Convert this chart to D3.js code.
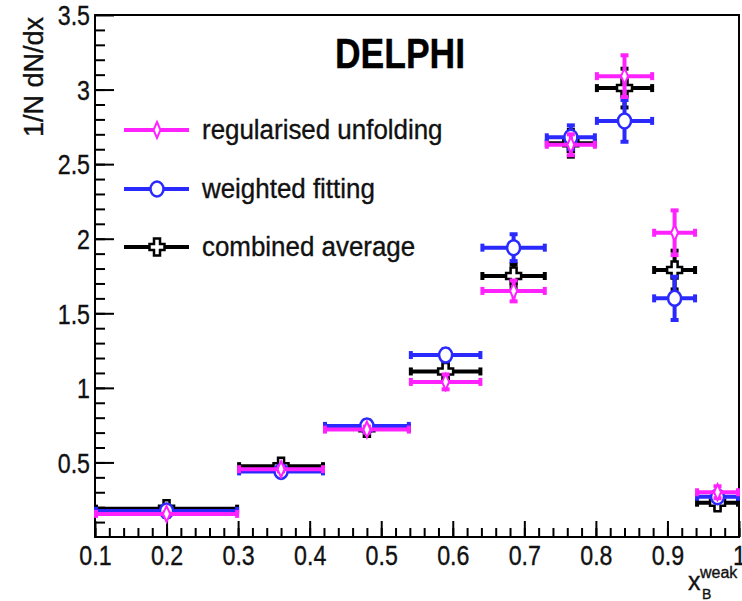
<!DOCTYPE html>
<html>
<head>
<meta charset="utf-8">
<script src="https://cdn.jsdelivr.net/npm/d3@7"></script>
<style>
  html, body { margin: 0; padding: 0; background: #ffffff; }
  svg { display: block; font-family: "Liberation Sans", Arial, Helvetica, sans-serif; }
  text { stroke: #111; stroke-width: 0.35px; }
</style>
</head>
<body>
<svg id="chart" width="742" height="601"></svg>
<script>
// ---- data ----
const binLo   = [0.10, 0.30, 0.42, 0.54, 0.64, 0.73, 0.80, 0.88, 0.94];
const binHi   = [0.30, 0.42, 0.54, 0.64, 0.73, 0.80, 0.88, 0.94, 1.00];
const xCenter = [0.20, 0.36, 0.48, 0.59, 0.685, 0.765, 0.84, 0.91, 0.97];

const regValues = [0.155, 0.455, 0.72, 1.04, 1.65, 2.63, 3.09, 2.04, 0.30];
const regErrors = [0.01, 0.015, 0.02, 0.05, 0.07, 0.07, 0.14, 0.15, 0.04];
const fitValues = [0.175, 0.44, 0.745, 1.22, 1.94, 2.68, 2.79, 1.60, 0.27];
const fitErrors = [0.01, 0.015, 0.02, 0.04, 0.09, 0.08, 0.14, 0.145, 0.03];
const avgValues = [0.19, 0.475, 0.73, 1.11, 1.75, 2.64, 3.01, 1.79, 0.23];
const avgErrors = [0.01, 0.015, 0.02, 0.045, 0.08, 0.09, 0.13, 0.13, 0.04];

const seriesNames = ["regularised unfolding", "weighted fitting", "combined average"];
const xTickValues = [0.1, 0.2, 0.3, 0.4, 0.5, 0.6, 0.7, 0.8, 0.9, 1.0];
const yTickValues = [0.5, 1, 1.5, 2, 2.5, 3, 3.5];

// ---- layout ----
const svg = d3.select("#chart");
const L = 95, R = 739, T = 15, B = 537;
const x = d3.scaleLinear().domain([0.1, 1.0]).range([L, R]);
const y = d3.scaleLinear().domain([0, 3.5]).range([B, T]);
const SX = 0.86; // horizontal text compression seen in the reference

const MAG = "#ff22ff", BLU = "#2a2aff", BLK = "#000000";

// minor ticks
const xMinor = d3.range(0, 46).map(i => 0.1 + i * 0.02).filter(v => v <= 1.0001);
const yMinor = d3.range(1, 35).map(i => i * 0.1);

svg.append("g").attr("transform", `translate(0,${B})`)
  .call(d3.axisBottom(x).tickValues(xMinor).tickSize(-9).tickFormat(""))
  .call(g => g.select(".domain").remove())
  .selectAll("line").attr("stroke", "#000").attr("stroke-width", 2);
svg.append("g").attr("transform", `translate(${L},0)`)
  .call(d3.axisLeft(y).tickValues(yMinor).tickSize(-10).tickFormat(""))
  .call(g => g.select(".domain").remove())
  .selectAll("line").attr("stroke", "#000").attr("stroke-width", 2);

// major x axis
const gx = svg.append("g").attr("transform", `translate(0,${B})`)
  .call(d3.axisBottom(x).tickValues(xTickValues).tickSize(-16).tickPadding(0)
    .tickFormat(d => d3.format("")(+d.toFixed(1))));
gx.select(".domain").remove();
gx.selectAll("line").attr("stroke", "#000").attr("stroke-width", 2);
gx.selectAll("text")
  .attr("y", 28).attr("dy", 0)
  .attr("font-size", 27).attr("fill", "#111")
  .attr("transform", `scale(${SX},1)`)
  .attr("font-family", "Liberation Sans, Arial, sans-serif");

// major y axis
const gy = svg.append("g").attr("transform", `translate(${L},0)`)
  .call(d3.axisLeft(y).tickValues(yTickValues).tickSize(-19).tickPadding(0)
    .tickFormat(d => String(d)));
gy.select(".domain").remove();
gy.selectAll("line").attr("stroke", "#000").attr("stroke-width", 2);
gy.selectAll("text")
  .attr("x", -5 / SX).attr("dy", "0.36em")
  .attr("font-size", 27).attr("fill", "#111")
  .attr("transform", `scale(${SX},1)`)
  .attr("font-family", "Liberation Sans, Arial, sans-serif");

// frame
svg.append("rect").attr("x", L).attr("y", T).attr("width", R - L).attr("height", B - T)
  .attr("fill", "none").attr("stroke", "#000").attr("stroke-width", 2);

// ---- markers ----
function crossPath(ax, ay, lx, ly) {
  return `M${-ax},${-ly}L${ax},${-ly}L${ax},${-ay}L${lx},${-ay}L${lx},${ay}L${ax},${ay}L${ax},${ly}L${-ax},${ly}L${-ax},${ay}L${-lx},${ay}L${-lx},${-ay}L${-ax},${-ay}Z`;
}
function drawMarker(g, kind, color) {
  if (kind === "circle") {
    g.append("ellipse").attr("rx", 6.5).attr("ry", 7.5)
      .attr("fill", "#fff").attr("stroke", color).attr("stroke-width", 2.5);
  } else if (kind === "cross") {
    g.append("path").attr("d", crossPath(3, 3, 7.5, 8.5))
      .attr("fill", "#fff").attr("stroke", color).attr("stroke-width", 2.5);
  } else {
    g.append("path").attr("d", "M0,-8L3.5,0L0,8L-3.5,0Z")
      .attr("fill", "#fff").attr("stroke", color).attr("stroke-width", 2);
  }
}

const series = [
  { vals: avgValues, errs: avgErrors, color: BLK, kind: "cross" },
  { vals: fitValues, errs: fitErrors, color: BLU, kind: "circle" },
  { vals: regValues, errs: regErrors, color: MAG, kind: "diamond" }
];

const LW = 4, CAP = 4;
series.forEach(s => {
  const g = svg.append("g");
  s.vals.forEach((v, i) => {
    const cx = x(xCenter[i]), cy = y(v);
    const x0 = x(binLo[i]), x1 = x(binHi[i]);
    const yt = y(v + s.errs[i]), yb = y(v - s.errs[i]);
    const eg = g.append("g").attr("stroke", s.color).attr("stroke-width", LW).attr("fill", "none");
    eg.append("line").attr("x1", x0 + 1).attr("x2", x1 - 1).attr("y1", cy).attr("y2", cy);
    eg.append("line").attr("x1", x0 + 1).attr("x2", x0 + 1).attr("y1", cy - CAP).attr("y2", cy + CAP);
    eg.append("line").attr("x1", x1 - 1).attr("x2", x1 - 1).attr("y1", cy - CAP).attr("y2", cy + CAP);
    eg.append("line").attr("x1", cx).attr("x2", cx).attr("y1", yt).attr("y2", yb);
    eg.append("line").attr("x1", cx - CAP).attr("x2", cx + CAP).attr("y1", yt).attr("y2", yt);
    eg.append("line").attr("x1", cx - CAP).attr("x2", cx + CAP).attr("y1", yb).attr("y2", yb);
  });
  s.vals.forEach((v, i) => {
    const mg = g.append("g").attr("transform", `translate(${x(xCenter[i])},${y(v)})`);
    drawMarker(mg, s.kind, s.color);
  });
});

// ---- legend ----
const legendItems = [
  { name: seriesNames[0], color: MAG, kind: "diamond", y: 130 },
  { name: seriesNames[1], color: BLU, kind: "circle", y: 189 },
  { name: seriesNames[2], color: BLK, kind: "cross", y: 247 }
];
legendItems.forEach(it => {
  svg.append("line").attr("x1", 124).attr("x2", 189).attr("y1", it.y).attr("y2", it.y)
    .attr("stroke", it.color).attr("stroke-width", LW);
  const mg = svg.append("g").attr("transform", `translate(157,${it.y})`);
  drawMarker(mg, it.kind, it.color);
  svg.append("text").attr("transform", `translate(202,${it.y + 9}) scale(0.96,1)`)
    .attr("font-size", 27).attr("fill", "#111").text(it.name);
});

// ---- titles ----
svg.append("text").attr("transform", `translate(400,68) scale(0.845,1)`)
  .attr("text-anchor", "middle").attr("font-size", 42).attr("font-weight", "bold")
  .attr("fill", "#000").style("stroke", "#000").text("DELPHI");

svg.append("text").attr("transform", "translate(43,17) rotate(-90)")
  .attr("text-anchor", "end").attr("font-size", 27).attr("fill", "#111").text("1/N dN/dx");

const xt = svg.append("g");
xt.append("text").attr("x", 688).attr("y", 590).attr("font-size", 25).attr("fill", "#111").text("x");
xt.append("text").attr("x", 702).attr("y", 599).attr("font-size", 14).attr("fill", "#111").text("B");
xt.append("text").attr("x", 700).attr("y", 578).attr("font-size", 16).attr("fill", "#111").text("weak");
</script>
</body>
</html>
